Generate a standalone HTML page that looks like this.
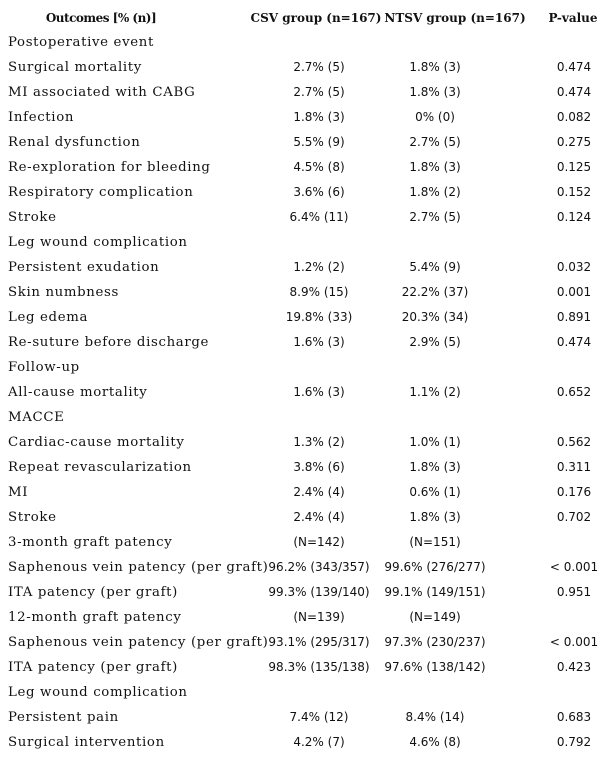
<!DOCTYPE html>
<html><head><meta charset="utf-8"><style>
body{margin:0;width:611px;height:758px;background:#fff;position:relative;overflow:hidden;color:#111}
.r{position:absolute;left:0;width:611px;height:25px}
.c{position:absolute;top:0;line-height:25px;white-space:nowrap}
.l{left:8px;font-family:"DejaVu Serif",serif;font-size:13.3px;letter-spacing:0.65px}
.n{font-family:"DejaVu Sans",sans-serif;font-size:12px;transform:translateX(-50%)}
.h{font-weight:bold;font-family:"DejaVu Serif",serif;font-size:12px;transform:translateX(-50%)}
</style></head><body>
<div id="t"></div>
<script>
const rows=[
["Postoperative event","","",""],
["Surgical mortality","2.7% (5)","1.8% (3)","0.474"],
["MI associated with CABG","2.7% (5)","1.8% (3)","0.474"],
["Infection","1.8% (3)","0% (0)","0.082"],
["Renal dysfunction","5.5% (9)","2.7% (5)","0.275"],
["Re-exploration for bleeding","4.5% (8)","1.8% (3)","0.125"],
["Respiratory complication","3.6% (6)","1.8% (2)","0.152"],
["Stroke","6.4% (11)","2.7% (5)","0.124"],
["Leg wound complication","","",""],
["Persistent exudation","1.2% (2)","5.4% (9)","0.032"],
["Skin numbness","8.9% (15)","22.2% (37)","0.001"],
["Leg edema","19.8% (33)","20.3% (34)","0.891"],
["Re-suture before discharge","1.6% (3)","2.9% (5)","0.474"],
["Follow-up","","",""],
["All-cause mortality","1.6% (3)","1.1% (2)","0.652"],
["MACCE","","",""],
["Cardiac-cause mortality","1.3% (2)","1.0% (1)","0.562"],
["Repeat revascularization","3.8% (6)","1.8% (3)","0.311"],
["MI","2.4% (4)","0.6% (1)","0.176"],
["Stroke","2.4% (4)","1.8% (3)","0.702"],
["3-month graft patency","(N=142)","(N=151)",""],
["Saphenous vein patency (per graft)","96.2% (343/357)","99.6% (276/277)","< 0.001"],
["ITA patency (per graft)","99.3% (139/140)","99.1% (149/151)","0.951"],
["12-month graft patency","(N=139)","(N=149)",""],
["Saphenous vein patency (per graft)","93.1% (295/317)","97.3% (230/237)","< 0.001"],
["ITA patency (per graft)","98.3% (135/138)","97.6% (138/142)","0.423"],
["Leg wound complication","","",""],
["Persistent pain","7.4% (12)","8.4% (14)","0.683"],
["Surgical intervention","4.2% (7)","4.6% (8)","0.792"]];
const t=document.getElementById('t');
let h='<div class="r" style="top:6px">'+
'<div class="c h" style="left:101px;letter-spacing:-0.5px">Outcomes [% (n)]</div>'+
'<div class="c h" style="left:316px">CSV group (n=167)</div>'+
'<div class="c h" style="left:455px">NTSV group (n=167)</div>'+
'<div class="c h" style="left:573px">P-value</div></div>';
rows.forEach((r,i)=>{
h+='<div class="r" style="top:'+(30+i*25)+'px">'+
'<div class="c l">'+r[0]+'</div>'+
'<div class="c n" style="left:319px">'+r[1]+'</div>'+
'<div class="c n" style="left:435px">'+r[2]+'</div>'+
'<div class="c n" style="left:574px">'+r[3].replace('<','&lt;')+'</div></div>';
});
t.innerHTML=h;
</script>
</body></html>
